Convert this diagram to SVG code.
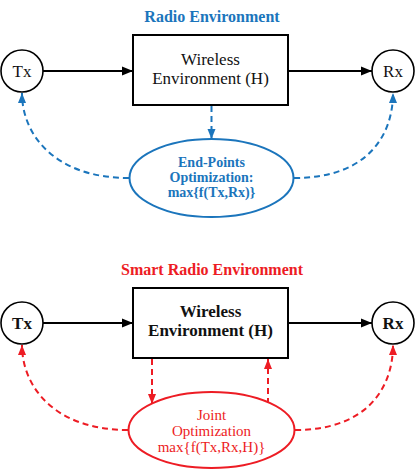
<svg xmlns="http://www.w3.org/2000/svg" width="416" height="471" viewBox="0 0 416 471" font-family="'Liberation Serif', 'DejaVu Serif', serif">
<defs>
<style>
text{text-anchor:middle}
.node{fill:#fff;stroke:#000;stroke-width:1.6}
.box{fill:#fff;stroke:#000;stroke-width:2}
.solid{fill:none;stroke:#000;stroke-width:2}
.bd{fill:none;stroke:#1b75bc;stroke-width:2;stroke-dasharray:6,4}
.rd{fill:none;stroke:#ed1c24;stroke-width:2;stroke-dasharray:6,4}
.lbl{font-size:17px;fill:#111}
.lblb{font-size:17px;fill:#111;font-weight:bold}
.btxt{font-size:14px;fill:#1b75bc;font-weight:bold}
.rtxt{font-size:15px;fill:#ed1c24}
.ttl{font-size:16px;font-weight:bold}
</style>
<marker id="ak" markerUnits="userSpaceOnUse" markerWidth="11" markerHeight="11" viewBox="0 0 10 10" refX="10" refY="5" orient="auto"><path d="M0,1 L10,5 L0,9 Z" fill="#000"/></marker>
<marker id="ab" markerUnits="userSpaceOnUse" markerWidth="10" markerHeight="10" viewBox="0 0 10 10" refX="10" refY="5" orient="auto"><path d="M0,1 L10,5 L0,9 Z" fill="#1b75bc"/></marker>
<marker id="ar" markerUnits="userSpaceOnUse" markerWidth="10" markerHeight="10" viewBox="0 0 10 10" refX="10" refY="5" orient="auto"><path d="M0,1 L10,5 L0,9 Z" fill="#ed1c24"/></marker>
</defs>
<rect width="416" height="471" fill="#fff"/>
<text class="ttl" x="212" y="22" fill="#1b75bc">Radio Environment</text>
<text class="ttl" x="212" y="275" fill="#ed1c24">Smart Radio Environment</text>

<g id="connectors">
<line class="solid" x1="43" y1="71" x2="133" y2="71" marker-end="url(#ak)"/>
<line class="solid" x1="288" y1="71" x2="372" y2="71" marker-end="url(#ak)"/>
<line class="bd" x1="211.5" y1="106" x2="211.5" y2="139" marker-end="url(#ab)"/>
<path class="bd" d="M129,178 C55,178 22,135 22,93" marker-end="url(#ab)"/>
<path class="bd" d="M294,178 C368,178 393,135 393,93" marker-end="url(#ab)"/>
<line class="solid" x1="43" y1="323" x2="133" y2="323" marker-end="url(#ak)"/>
<line class="solid" x1="288" y1="323" x2="372" y2="323" marker-end="url(#ak)"/>
<line class="rd" x1="152" y1="359" x2="152" y2="404" marker-end="url(#ar)"/>
<line class="rd" x1="268" y1="404" x2="268" y2="359" marker-end="url(#ar)"/>
<path class="rd" d="M128,430 C55,430 22,387 22,345" marker-end="url(#ar)"/>
<path class="rd" d="M295,430 C368,430 393,387 393,345" marker-end="url(#ar)"/>
</g>

<g id="tx1"><circle class="node" cx="22" cy="71" r="21"/><text class="lbl" x="22" y="77">Tx</text></g>
<g id="rx1"><circle class="node" cx="393" cy="71" r="21"/><text class="lbl" x="393" y="77">Rx</text></g>
<g id="env1"><rect class="box" x="133" y="35" width="155" height="70"/><text class="lbl" x="210.5" y="65">Wireless</text><text class="lbl" x="210.5" y="84">Environment (H)</text></g>
<g id="opt1"><ellipse cx="211.5" cy="178" rx="82" ry="39" fill="#fff" stroke="#1b75bc" stroke-width="2"/><text class="btxt" x="211.5" y="167">End-Points</text><text class="btxt" x="211.5" y="182">Optimization:</text><text class="btxt" x="211.5" y="197">max{f(Tx,Rx)}</text></g>

<g id="tx2"><circle class="node" cx="22" cy="323" r="21"/><text class="lblb" x="22" y="329">Tx</text></g>
<g id="rx2"><circle class="node" cx="393" cy="323" r="21"/><text class="lblb" x="393" y="329">Rx</text></g>
<g id="env2"><rect class="box" x="133" y="288" width="155" height="70"/><text class="lblb" x="210.5" y="317">Wireless</text><text class="lblb" x="210.5" y="336">Environment (H)</text></g>
<g id="opt2"><ellipse cx="211.5" cy="430" rx="83" ry="38" fill="#fff" stroke="#ed1c24" stroke-width="2"/><text class="rtxt" x="211.5" y="420">Joint</text><text class="rtxt" x="211.5" y="436">Optimization</text><text class="rtxt" x="211.5" y="452">max{f(Tx,Rx,H)}</text></g>
</svg>
